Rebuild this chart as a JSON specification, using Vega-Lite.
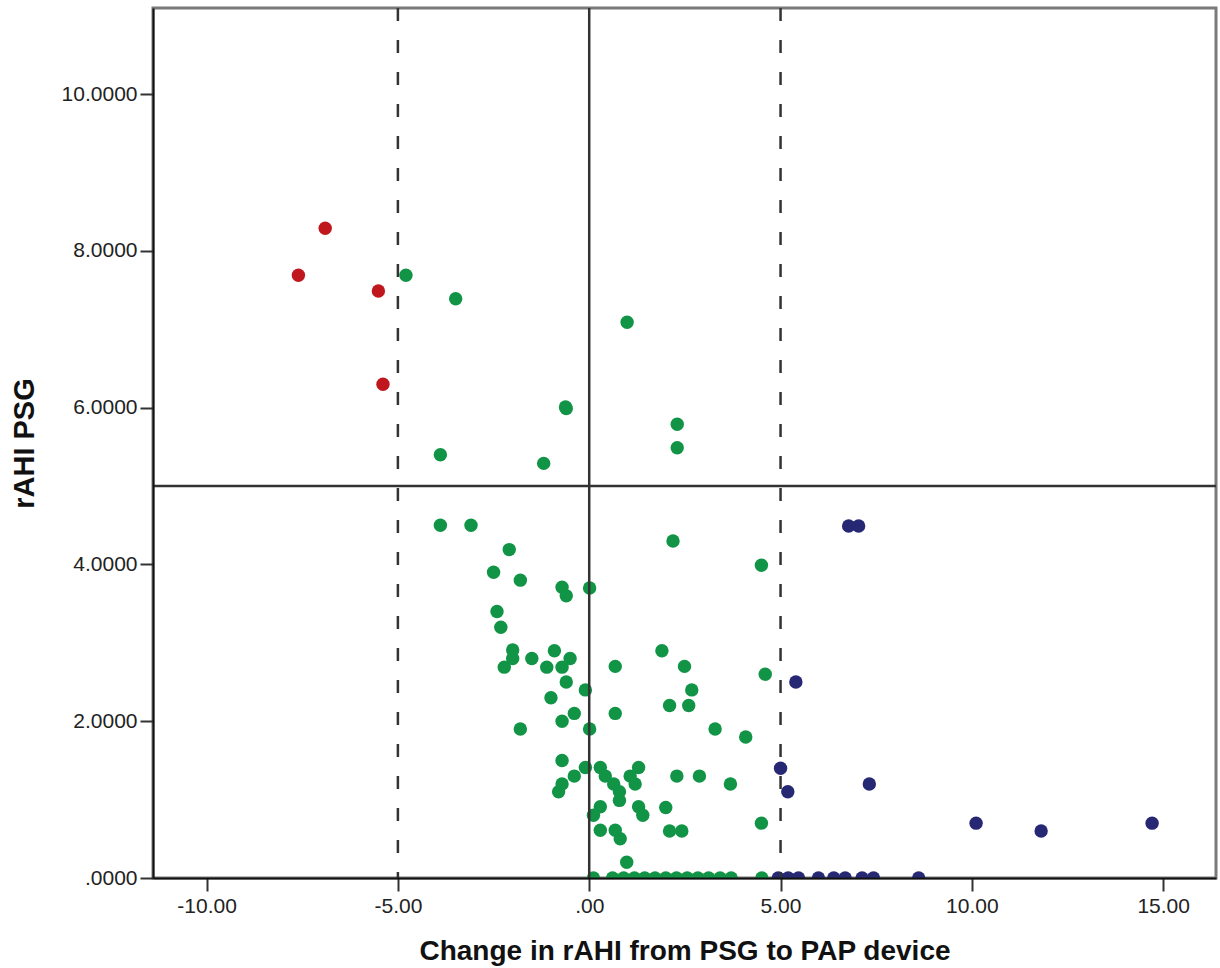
{
  "$schema": "https://vega.github.io/schema/vega-lite/v6.json",
  "width": 1063,
  "height": 870,
  "autosize": "none",
  "padding": {"left": 153, "top": 8, "right": 4, "bottom": 90},
  "background": "white",
  "config": {
    "view": {"stroke": "#7a7a7a", "strokeWidth": 3},
    "axis": {
      "labelFont": "Liberation Sans",
      "titleFont": "Liberation Sans",
      "labelColor": "#222222",
      "titleColor": "#111111",
      "domainColor": "#111111",
      "tickColor": "#333333",
      "grid": false
    }
  },
  "layer": [
    {
      "data": {"values": [
        {"change": -6.90, "psg": 8.29, "g": "r"},
        {"change": -7.60, "psg": 7.69, "g": "r"},
        {"change": -5.51, "psg": 7.49, "g": "r"},
        {"change": -5.39, "psg": 6.30, "g": "r"},
        {"change": -4.79, "psg": 7.69, "g": "g"},
        {"change": -3.49, "psg": 7.39, "g": "g"},
        {"change": 0.99, "psg": 7.09, "g": "g"},
        {"change": -0.60, "psg": 5.99, "g": "g"},
        {"change": -0.62, "psg": 6.01, "g": "g"},
        {"change": -3.89, "psg": 5.40, "g": "g"},
        {"change": -1.19, "psg": 5.29, "g": "g"},
        {"change": 2.30, "psg": 5.79, "g": "g"},
        {"change": 2.30, "psg": 5.49, "g": "g"},
        {"change": -3.89, "psg": 4.50, "g": "g"},
        {"change": -3.09, "psg": 4.50, "g": "g"},
        {"change": 2.19, "psg": 4.30, "g": "g"},
        {"change": -2.09, "psg": 4.19, "g": "g"},
        {"change": 4.50, "psg": 3.99, "g": "g"},
        {"change": -2.50, "psg": 3.90, "g": "g"},
        {"change": -1.80, "psg": 3.80, "g": "g"},
        {"change": -0.71, "psg": 3.71, "g": "g"},
        {"change": -0.60, "psg": 3.60, "g": "g"},
        {"change": 0.01, "psg": 3.70, "g": "g"},
        {"change": -2.41, "psg": 3.40, "g": "g"},
        {"change": -2.31, "psg": 3.20, "g": "g"},
        {"change": -2.00, "psg": 2.91, "g": "g"},
        {"change": -2.00, "psg": 2.80, "g": "g"},
        {"change": -2.22, "psg": 2.69, "g": "g"},
        {"change": -1.50, "psg": 2.80, "g": "g"},
        {"change": -0.91, "psg": 2.90, "g": "g"},
        {"change": -1.11, "psg": 2.69, "g": "g"},
        {"change": -0.71, "psg": 2.69, "g": "g"},
        {"change": -0.50, "psg": 2.80, "g": "g"},
        {"change": -0.60, "psg": 2.50, "g": "g"},
        {"change": -0.10, "psg": 2.40, "g": "g"},
        {"change": -1.00, "psg": 2.30, "g": "g"},
        {"change": 0.68, "psg": 2.70, "g": "g"},
        {"change": 1.90, "psg": 2.90, "g": "g"},
        {"change": 2.49, "psg": 2.70, "g": "g"},
        {"change": 4.60, "psg": 2.60, "g": "g"},
        {"change": 2.68, "psg": 2.40, "g": "g"},
        {"change": 2.10, "psg": 2.20, "g": "g"},
        {"change": 2.60, "psg": 2.20, "g": "g"},
        {"change": 0.68, "psg": 2.10, "g": "g"},
        {"change": -0.39, "psg": 2.10, "g": "g"},
        {"change": -0.71, "psg": 2.00, "g": "g"},
        {"change": -1.80, "psg": 1.90, "g": "g"},
        {"change": 0.01, "psg": 1.90, "g": "g"},
        {"change": 3.29, "psg": 1.90, "g": "g"},
        {"change": 4.09, "psg": 1.80, "g": "g"},
        {"change": -0.71, "psg": 1.50, "g": "g"},
        {"change": -0.10, "psg": 1.41, "g": "g"},
        {"change": 0.29, "psg": 1.41, "g": "g"},
        {"change": 1.29, "psg": 1.41, "g": "g"},
        {"change": -0.39, "psg": 1.30, "g": "g"},
        {"change": 0.42, "psg": 1.30, "g": "g"},
        {"change": 1.07, "psg": 1.30, "g": "g"},
        {"change": 2.29, "psg": 1.30, "g": "g"},
        {"change": 2.88, "psg": 1.30, "g": "g"},
        {"change": -0.71, "psg": 1.20, "g": "g"},
        {"change": 0.64, "psg": 1.20, "g": "g"},
        {"change": 1.20, "psg": 1.20, "g": "g"},
        {"change": 3.69, "psg": 1.20, "g": "g"},
        {"change": -0.80, "psg": 1.10, "g": "g"},
        {"change": 0.79, "psg": 1.10, "g": "g"},
        {"change": 0.79, "psg": 0.99, "g": "g"},
        {"change": 0.29, "psg": 0.91, "g": "g"},
        {"change": 0.11, "psg": 0.80, "g": "g"},
        {"change": 1.29, "psg": 0.91, "g": "g"},
        {"change": 1.40, "psg": 0.80, "g": "g"},
        {"change": 2.00, "psg": 0.90, "g": "g"},
        {"change": 4.50, "psg": 0.70, "g": "g"},
        {"change": 0.29, "psg": 0.61, "g": "g"},
        {"change": 0.68, "psg": 0.61, "g": "g"},
        {"change": 0.81, "psg": 0.50, "g": "g"},
        {"change": 2.10, "psg": 0.60, "g": "g"},
        {"change": 2.42, "psg": 0.60, "g": "g"},
        {"change": 0.98, "psg": 0.20, "g": "g"},
        {"change": 0.11, "psg": 0.0, "g": "g"},
        {"change": 0.61, "psg": 0.0, "g": "g"},
        {"change": 0.90, "psg": 0.0, "g": "g"},
        {"change": 1.18, "psg": 0.0, "g": "g"},
        {"change": 1.45, "psg": 0.0, "g": "g"},
        {"change": 1.72, "psg": 0.0, "g": "g"},
        {"change": 2.00, "psg": 0.0, "g": "g"},
        {"change": 2.28, "psg": 0.0, "g": "g"},
        {"change": 2.56, "psg": 0.0, "g": "g"},
        {"change": 2.84, "psg": 0.0, "g": "g"},
        {"change": 3.12, "psg": 0.0, "g": "g"},
        {"change": 3.42, "psg": 0.0, "g": "g"},
        {"change": 3.71, "psg": 0.0, "g": "g"},
        {"change": 4.51, "psg": 0.0, "g": "g"},
        {"change": 6.78, "psg": 4.49, "g": "b"},
        {"change": 7.04, "psg": 4.49, "g": "b"},
        {"change": 5.40, "psg": 2.50, "g": "b"},
        {"change": 5.00, "psg": 1.40, "g": "b"},
        {"change": 5.19, "psg": 1.10, "g": "b"},
        {"change": 7.32, "psg": 1.20, "g": "b"},
        {"change": 10.11, "psg": 0.70, "g": "b"},
        {"change": 11.81, "psg": 0.60, "g": "b"},
        {"change": 14.71, "psg": 0.70, "g": "b"},
        {"change": 4.94, "psg": 0.0, "g": "b"},
        {"change": 5.20, "psg": 0.0, "g": "b"},
        {"change": 5.47, "psg": 0.0, "g": "b"},
        {"change": 5.99, "psg": 0.0, "g": "b"},
        {"change": 6.39, "psg": 0.0, "g": "b"},
        {"change": 6.69, "psg": 0.0, "g": "b"},
        {"change": 7.13, "psg": 0.0, "g": "b"},
        {"change": 7.43, "psg": 0.0, "g": "b"},
        {"change": 8.61, "psg": 0.0, "g": "b"}
      ]},
      "mark": {"type": "point", "filled": true, "shape": "circle", "size": 180, "opacity": 1, "clip": true},
      "encoding": {
        "x": {
          "field": "change", "type": "quantitative",
          "scale": {"domain": [-11.40, 16.38], "nice": false, "zero": false},
          "axis": {
            "title": "Change in rAHI from PSG to PAP device",
            "values": [-10, -5, 0, 5, 10, 15],
            "labelExpr": "datum.value == 0 ? '.00' : (datum.value < 0 ? '-' : '') + format(abs(datum.value), '.2f')",
            "labelFontSize": 21,
            "titleFontSize": 28,
            "titleFontWeight": "bold",
            "tickSize": 13,
            "tickWidth": 2,
            "domainWidth": 2,
            "labelPadding": 4,
            "titlePadding": 21,
            "zindex": 1
          }
        },
        "y": {
          "field": "psg", "type": "quantitative",
          "scale": {"domain": [0, 11.10], "nice": false, "zero": false},
          "axis": {
            "title": "rAHI PSG",
            "values": [0, 2, 4, 6, 8, 10],
            "labelExpr": "datum.value == 0 ? '.0000' : format(datum.value, '.4f')",
            "labelFontSize": 21,
            "titleFontSize": 29,
            "titleFontWeight": "bold",
            "tickSize": 13,
            "tickWidth": 2,
            "domainWidth": 2,
            "labelPadding": 3,
            "titlePadding": 22,
            "zindex": 1
          }
        },
        "color": {
          "field": "g", "type": "nominal",
          "scale": {"domain": ["r", "g", "b"], "range": ["#c0171f", "#119446", "#262874"]},
          "legend": null
        }
      }
    },
    {
      "data": {"values": [{"v": -5}, {"v": 5}]},
      "mark": {"type": "rule", "color": "#333333", "strokeWidth": 2.5, "strokeDash": [13, 19]},
      "encoding": {"x": {"field": "v", "type": "quantitative"}}
    },
    {
      "data": {"values": [{"v": 0}]},
      "mark": {"type": "rule", "color": "#333333", "strokeWidth": 2.5},
      "encoding": {"x": {"field": "v", "type": "quantitative"}}
    },
    {
      "data": {"values": [{"h": 5}]},
      "mark": {"type": "rule", "color": "#333333", "strokeWidth": 2.5},
      "encoding": {"y": {"field": "h", "type": "quantitative"}}
    }
  ]
}
